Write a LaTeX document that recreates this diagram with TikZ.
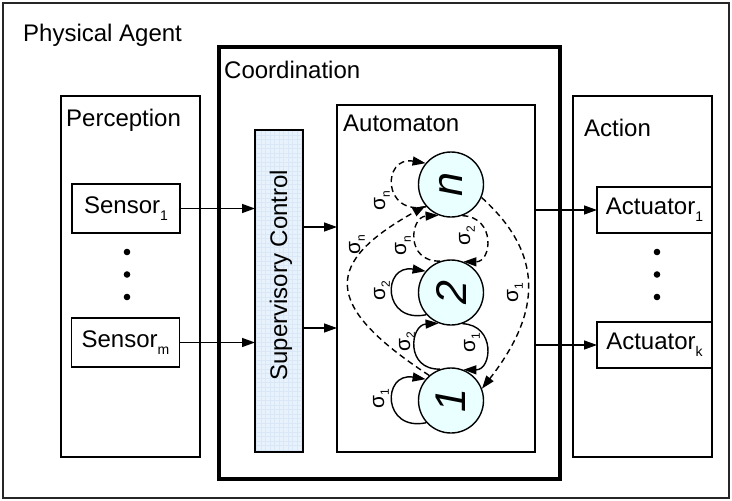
\documentclass[tikz,border=0pt]{standalone}
\usepackage{fontspec}
\setmainfont{Liberation Sans}
\usetikzlibrary{arrows.meta}
\definecolor{statefill}{RGB}{234,255,255}
\definecolor{supfill}{RGB}{232,242,252}
\definecolor{supgrid}{RGB}{218,231,246}
% lowered small index for box labels and transition labels
\newcommand{\lowsub}[1]{\raisebox{-0.28em}{\fontsize{14}{14}\selectfont #1}}
\newcommand{\sigl}[1]{σ\raisebox{-0.22em}{\fontsize{12}{12}\selectfont #1}}
\tikzset{
  box/.style={draw, line width=1.4pt, inner sep=0pt, outer sep=0pt},
  lbl/.style={font=\fontsize{24}{28}\selectfont, inner sep=0pt, anchor=base west},
  arr/.style={line width=1.4pt, -{Triangle[length=13pt,width=9pt]}},
  state/.style={circle, draw, line width=1.4pt, fill=statefill, minimum size=65pt,
    inner sep=0pt, font=\fontsize{43}{43}\selectfont\itshape},
  sig/.style={rotate=90, inner sep=0pt, font=\fontsize{21}{21}\selectfont},
  dsh/.style={dash pattern=on 6pt off 4pt},
}
\begin{document}
\begin{tikzpicture}[x=1pt, y=-1pt]
\useasboundingbox (0,0) rectangle (732,501);

% outer agent frame
\node[box, draw=black!85, line width=1.1pt, minimum width=726pt, minimum height=495pt] (agent) at (366,250.5) {};
\node[lbl] (agentlbl) at (23,41) {Physical Agent};

% coordination frame
\node[box, line width=4pt, minimum width=341.5pt, minimum height=432pt] (coord) at (389.25,263) {};
\node[lbl] (coordlbl) at (224,78) {Coordination};

% perception column
\node[box, minimum width=139pt, minimum height=361pt] (perc) at (130.5,276.5) {};
\node[lbl] (perclbl) at (66,126) {Perception};
\node[box, minimum width=108pt, minimum height=49pt, font=\fontsize{24}{28}\selectfont] (s1) at (126,208.5) {Sensor\lowsub{1}};
\node[box, minimum width=108pt, minimum height=49pt, font=\fontsize{24}{28}\selectfont] (sm) at (125.5,342.5) {Sensor\lowsub{m}};
\foreach \yy in {252,274.5,297} \fill (127,\yy) circle (3.3);

% action column
\node[box, minimum width=139pt, minimum height=361pt] (act) at (642.5,276.5) {};
\node[lbl] (actlbl) at (584,136) {Action};
\node[box, minimum width=115pt, minimum height=46pt, font=\fontsize{24}{28}\selectfont] (a1) at (654.5,210) {Actuator\lowsub{1}};
\node[box, minimum width=115pt, minimum height=46pt, font=\fontsize{24}{28}\selectfont] (ak) at (654.5,345) {Actuator\lowsub{k}};
\foreach \yy in {252,274.5,297} \fill (657,\yy) circle (3.3);

% supervisory control bar with a fine grid fill
\begin{scope}
  \clip (255,130) rectangle (303,452);
  \fill[supfill] (255,130) rectangle (303,452);
  \draw[supgrid, line width=0.4pt, step=4.5pt] (250,125) grid (310,460);
\end{scope}
\node[box, minimum width=48pt, minimum height=322pt] (sup) at (279,291) {};
\node[rotate=90, inner sep=0pt, font=\fontsize{24}{28}\selectfont] (suplbl) at (281,275) {Supervisory Control};

% automaton frame
\node[box, minimum width=198pt, minimum height=347pt] (auto) at (436,278.5) {};
\node[lbl] (autolbl) at (343,131) {Automaton};

% states
\node[state] (N) at (451,184.5) {\rotatebox{90}{n}};
\node[state] (T) at (451,292.5) {\rotatebox{90}{2}};
\node[state] (O) at (451,400.5) {\rotatebox{90}{1}};

% signal flow
\coordinate (ya) at (0,227);
\coordinate (yb) at (0,328);
\draw[arr] (s1.east) -- (s1.east -| sup.west);
\draw[arr] (sm.east) -- (sm.east -| sup.west);
\draw[arr] (sup.east |- ya) -- (auto.west |- ya);
\draw[arr] (sup.east |- yb) -- (auto.west |- yb);
\draw[arr] (auto.east |- a1) -- (a1.west);
\draw[arr] (auto.east |- ak) -- (ak.west);

% transitions: solid
\draw[arr] (O.222) .. controls (382,432) and (382,372) .. (O.140);
\draw[arr] (T.222) .. controls (382,324) and (382,264) .. (T.140);
\draw[arr] (O.109) .. controls (405,370) and (410,325) .. (T.248);
\draw[arr] (T.290) .. controls (496,325) and (492,370) .. (O.68);

% transitions: dashed
\draw[arr, dsh] (N.222) .. controls (382,216) and (382,156) .. (N.140);
\draw[arr, dsh] (T.109) .. controls (405,262) and (410,217) .. (N.248);
\draw[arr, dsh] (N.290) .. controls (496,217) and (492,262) .. (T.68);
\draw[arr, dsh] (O.131) .. controls (320,304) and (325,262) .. (N.220);
\draw[arr, dsh] (N.337) .. controls (543,253) and (543,310.5) .. (O.21);

% transition labels
\node[sig] (l1) at (381,399) {\sigl{1}};
\node[sig] (l2) at (382,291) {\sigl{2}};
\node[sig] (l3) at (382,201) {\sigl{n}};
\node[sig] (l4) at (407,342) {\sigl{2}};
\node[sig] (l5) at (472,343) {\sigl{1}};
\node[sig] (l6) at (403,246) {\sigl{n}};
\node[sig] (l7) at (467,236) {\sigl{2}};
\node[sig] (l8) at (357,245) {\sigl{n}};
\node[sig] (l9) at (515,293) {\sigl{1}};
\end{tikzpicture}
\end{document}
